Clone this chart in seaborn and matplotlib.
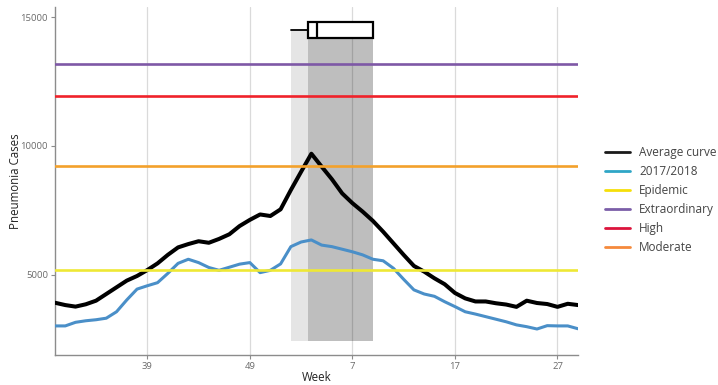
import matplotlib
matplotlib.use("Agg")
import matplotlib.pyplot as plt
from matplotlib.lines import Line2D
import seaborn as sns
import pandas as pd
import numpy as np

# ---- data ----
week_labels = [30, 31, 32, 33, 34, 35, 36, 37, 38, 39, 40, 41, 42, 43, 44, 45, 46, 47, 48, 49,
               50, 51, 52, 1, 2, 3, 4, 5, 6, 7, 8, 9, 10, 11, 12, 13, 14, 15, 16, 17, 18, 19,
               20, 21, 22, 23, 24, 25, 26, 27, 28, 29]
average_curve = [3910, 3820, 3760, 3850, 3990, 4250, 4510, 4770, 4950, 5180, 5440, 5770, 6060,
                 6190, 6300, 6240, 6390, 6570, 6890, 7130, 7340, 7280, 7540, 8290, 9000, 9700,
                 9200, 8710, 8160, 7780, 7450, 7090, 6670, 6220, 5770, 5340, 5120, 4860, 4630,
                 4290, 4080, 3960, 3960, 3890, 3840, 3750, 3990, 3900, 3860, 3750, 3870, 3820]
season_2017 = [3010, 3010, 3150, 3210, 3250, 3310, 3560, 4020, 4440, 4570, 4690, 5050, 5440,
               5600, 5470, 5280, 5170, 5290, 5410, 5470, 5080, 5170, 5420, 6090, 6270, 6350,
               6150, 6090, 5990, 5890, 5770, 5600, 5540, 5250, 4820, 4410, 4250, 4160, 3950,
               3760, 3560, 3470, 3370, 3270, 3170, 3050, 2980, 2890, 3020, 3010, 3010, 2900]
thresholds = {"Epidemic": 5200, "Extraordinary": 13170, "High": 11950, "Moderate": 9220}
tick_positions = [9, 19, 29, 39, 49]
tick_labels = ["39", "49", "7", "17", "27"]
# peak timing summary (index positions on the week axis)
peak_whisker_low = 23.0
peak_q1 = 24.7
peak_median = 25.5
peak_q3 = 31.0
peak_box_level = 14500
shade_bottom = 2430

idx = np.arange(len(week_labels))
df = pd.DataFrame({"idx": idx, "week": week_labels,
                   "Average curve": average_curve, "2017/2018": season_2017})

sns.set_style("white")
plt.rcParams["font.family"] = ["Open Sans", "DejaVu Sans"]

fig = plt.figure(figsize=(7.18, 3.85), dpi=100)
ax = fig.add_axes([55 / 718, 1 - 355 / 385, (578 - 55) / 718, (355 - 7) / 385])

# shaded peak-period regions
ax.fill_between([peak_whisker_low, peak_q1], shade_bottom, peak_box_level,
                color="black", alpha=0.10, lw=0, zorder=1)
ax.fill_between([peak_q1, peak_q3], shade_bottom, peak_box_level,
                color="black", alpha=0.255, lw=0, zorder=1)

# box for the peak timing
stats = [{"med": peak_median, "q1": peak_q1, "q3": peak_q3,
          "whislo": peak_whisker_low, "whishi": peak_q3}]
ax.bxp(stats, positions=[peak_box_level], widths=620, vert=False, showfliers=False,
       showcaps=False, patch_artist=True,
       boxprops=dict(facecolor="white", edgecolor="black", linewidth=1.6),
       medianprops=dict(color="black", linewidth=1.6),
       whiskerprops=dict(color="black", linewidth=1.3), manage_ticks=False, zorder=4)

line_colors = {"Average curve": "black", "2017/2018": "#4A8FC8"}
line_widths = {"Average curve": 2.9, "2017/2018": 2.2}
sns.lineplot(data=df, x="idx", y="Average curve", color=line_colors["Average curve"],
             lw=line_widths["Average curve"], ax=ax, zorder=5)
sns.lineplot(data=df, x="idx", y="2017/2018", color=line_colors["2017/2018"],
             lw=line_widths["2017/2018"], ax=ax, zorder=5)

thr_colors = {"Epidemic": "#EEE835", "Extraordinary": "#7E58A6",
              "High": "#F0222A", "Moderate": "#F3A12B"}
for name, val in thresholds.items():
    ax.axhline(val, color=thr_colors[name], lw=1.9, zorder=6)

ax.set_xlim(0, len(week_labels) - 1)
ax.set_ylim(1880, 15400)
ax.set_xticks(tick_positions)
ax.set_xticklabels(tick_labels)
ax.set_yticks([5000, 10000, 15000])
ax.set_yticklabels(["5000", "10000", "15000"])
ax.xaxis.grid(True, color="#DADADA", lw=0.9, zorder=0)
ax.yaxis.grid(False)
ax.set_axisbelow(True)
for s in ["top", "right"]:
    ax.spines[s].set_visible(False)
for s in ["left", "bottom"]:
    ax.spines[s].set_color("#8C8C8C")
    ax.spines[s].set_linewidth(1.0)
ax.tick_params(axis="both", which="major", length=3, width=0.8, color="#8C8C8C",
               labelsize=6.8, labelcolor="#6A6A6A", pad=2,
               bottom=True, left=True)
ax.set_xlabel("Week", fontsize=8.3, color="#222222", labelpad=0)
ax.set_ylabel("Pneumonia Cases", fontsize=8.3, color="#222222")
ax.yaxis.set_label_coords(-0.064, 0.5)

legend_colors = ["#1A1A1A", "#2FA6C6", "#F5DF0A", "#7B5EA8", "#DC143C", "#F58A3C"]
legend_names = ["Average curve", "2017/2018", "Epidemic", "Extraordinary", "High", "Moderate"]
handles = [Line2D([0], [0], color=c, lw=2.0) for c in legend_colors]
fig.legend(handles, legend_names, loc="center left", bbox_to_anchor=(605 / 718, 1 - 200 / 385),
           frameon=False, fontsize=8.5, handlelength=2.1, handletextpad=0.8,
           labelspacing=0.5, borderpad=0, borderaxespad=0, labelcolor="#444444")

fig.savefig("out.png", dpi=100)
